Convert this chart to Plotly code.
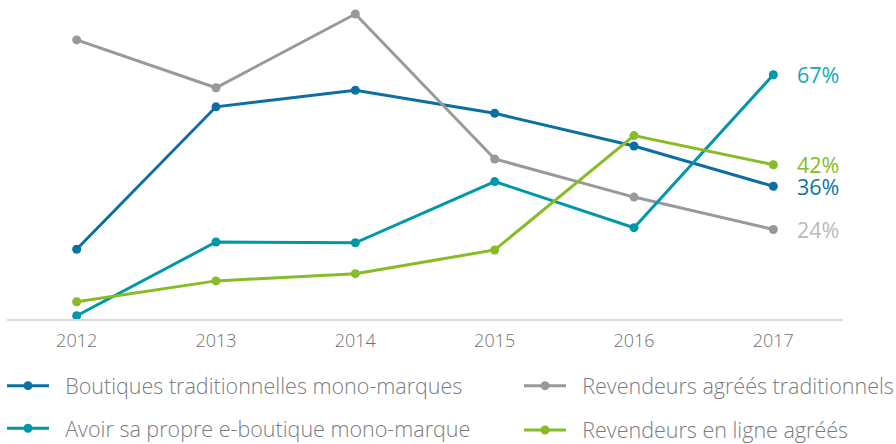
import plotly.graph_objects as go

years = ["2012", "2013", "2014", "2015", "2016", "2017"]

boutiques_trad = [18.5, 58.1, 62.7, 56.3, 47.2, 36]
revendeurs_trad = [76.7, 63.4, 83.9, 43.6, 33.0, 24]
e_boutique = [0, 20.5, 20.3, 37.3, 24.5, 67]
revendeurs_ligne = [3.9, 9.7, 11.7, 18.3, 50.1, 42]

names = [
    "Boutiques traditionnelles mono-marques",
    "Revendeurs agréés traditionnels",
    "Avoir sa propre e-boutique mono-marque",
    "Revendeurs en ligne agréés",
]
series = [boutiques_trad, revendeurs_trad, e_boutique, revendeurs_ligne]
colors = ["#0a6fa3", "#97999b", "#0097a9", "#86bc25"]
label_colors = ["#0a72a8", "#b9babb", "#12a9b5", "#86bc25"]
legend_ids = ["legend", "legend2", "legend3", "legend4"]
# legend placement (container px): (left x, centre y)
legend_pos = [(2, 385.7), (519, 385.7), (2, 428.3), (519, 430.0)]

FONT = "Open Sans"
W, H = 896, 444

fig = go.Figure()
for name, vals, c, lg in zip(names, series, colors, legend_ids):
    fig.add_trace(go.Scatter(
        x=years, y=vals, name="\u00a0\u00a0" + name, mode="lines+markers",
        line=dict(color=c, width=3),
        marker=dict(color=c, size=9),
        cliponaxis=False, legend=lg,
    ))

last_idx = len(years) - 1
for vals, c in zip(series, label_colors):
    fig.add_annotation(
        x=last_idx, y=vals[-1], text=f"{vals[-1]:.0f}%",
        showarrow=False, xanchor="left", yanchor="middle",
        xshift=22, yshift=0,
        font=dict(family=FONT, size=21.5, color=c),
    )

legend_layouts = {}
for lg, (lx, ly) in zip(legend_ids, legend_pos):
    legend_layouts[lg] = dict(
        orientation="h", xref="container", yref="container",
        x=lx / W, y=1 - ly / H, xanchor="left", yanchor="middle",
        itemwidth=42,
        font=dict(family=FONT, size=21.5, color="#7a7c7f", weight=300),
        bgcolor="rgba(0,0,0,0)",
    )

fig.update_layout(
    width=W, height=H,
    margin=dict(l=7, r=53, t=0, b=125),
    paper_bgcolor="white", plot_bgcolor="white",
    showlegend=True,
    **legend_layouts,
    xaxis=dict(
        type="category", range=[-0.5, 5.5],
        showline=True, linecolor="#d9d9d9", linewidth=1.5,
        showgrid=False, zeroline=False, ticks="",
        tickfont=dict(family=FONT, size=18, color="#707070", weight=300),
        ticklabelstandoff=5,
    ),
    yaxis=dict(
        range=[-0.9, 87.8], visible=False, showgrid=False, zeroline=False,
    ),
)

fig.write_html("out.html", config={"displayModeBar": False},
               post_script="document.body.style.margin='0px';")
